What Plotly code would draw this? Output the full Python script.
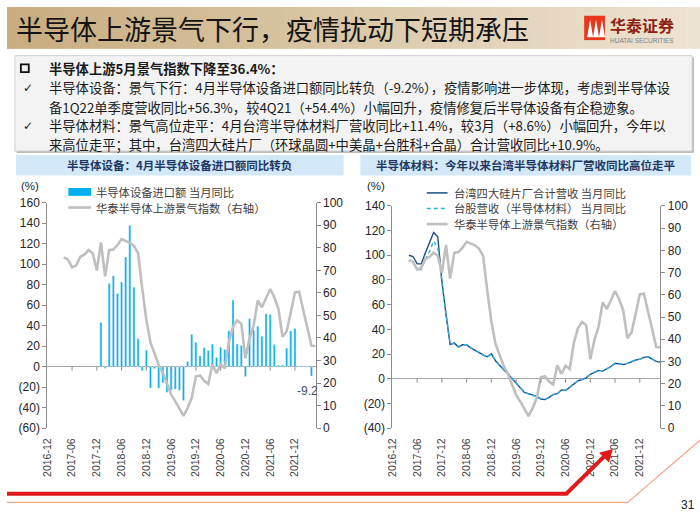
import plotly.graph_objects as go

W, H = 700, 525

months = [f"{2016 + (11 + k)//12}-{(11 + k) % 12 + 1:02d}" for k in range(66)]
tick_months = months[::6][:11]

# 半导体设备进口额 当月同比 (%), 2016-12 .. 2022-05
equip_yoy = [None]*13 + [
    43, -1.5, 81, 88.6, 71.3, 82.7, 107, 138, 77.6, 27.2, -4, 16.2,
    -20.8, -2, -21, -16, -25, -23, -22, -23, -33, 5, 31.7, 23.8,
    10.5, 18.4, 15.8, 22, 8.9, 19, 16.8, 35, 65, 22, 20.6, -9.5,
    46.8, 35.7, 39.3, 29.7, 51.6, 51, 21.5, 1.5, 1.5, 17.9, 34.8, 37.3,
    0.6, 0.6, 0.6, -9.2, None]

# 华泰半导体上游景气指数 (右轴)
boom_index = [None]*4 + [
    75.7, 74.8, 71.3, 72.2, 76, 77, 79, 77.6, 69.9,
    82.4, 67.3, 78.9, 79.2, 81.2, 83.8, 83, 82.2, 80.8, 77.5, 62, 48,
    38, 32.5, 28, 24.4, 20, 15, 12, 8.5, 5.4, 9, 13.4, 22.9,
    23.4, 21, 19.6, 28.3, 24.4, 28.1, 26.6, 38.3, 44.9, 47.8, 46.3, 31,
    39.7, 45.6, 56.6, 53.6, 58, 61.7, 58, 52.9, 40.5, 43, 51.4, 60.2,
    60.5, 52.9, 44.9, 36.5, 36.4]

# 台湾四大硅片厂合计营收 当月同比 (%)
wafer_yoy = [None]*4 + [
    100, 99, 93, 93, 102, 111, 118.5, 115, 79,
    52, 27.7, 29, 25.7, 27.5, 27.5, 25, 23, 21.2, 19.4, 17.8, 20.2,
    14.6, 10.7, 7.3, 4.1, 0.2, -3.8, -7.7, -11.1, -12.1, -13.5, -14.3, -16.4,
    -16.9, -15.1, -12.9, -12.1, -9, -9.5, -6.9, -3.8, -1.7, -0.6, 0.7, 3.6,
    5.4, 6.8, 6.2, 8, 9.9, 12.5, 12, 11.5, 12.5, 14.1, 15.1, 15.9,
    17.3, 17.8, 15.9, 14.1, 13.6]

# 台股营收（半导体材料）当月同比 (%)
material_yoy = [None]*4 + [
    95.5, 95, 88.5, 88.5, 97, 103, 111.5, 106, 78,
    51, 28.2, 28.6, 26.2, 27.2, 27.8, 25.3, 23.2, 21, 19.6, 17.5, 20,
    14.8, 10.9, 7.6, 4.3, 0.5, -3.5, -7.4, -10.8, -12.3, -13.2, -14.6, -16.1,
    -16.6, -15.4, -12.6, -12.3, -9.3, -9.2, -7.1, -3.6, -1.9, -0.4, 0.9, 3.4,
    5.6, 6.6, 6.5, 7.8, 10.1, 12.3, 12.2, 11.3, 12.7, 13.9, 15.3, 15.7,
    17.1, 17.6, 16.2, 13.8, 13.4]

left_ticks = list(range(-60, 161, 20))
right_ticks = list(range(0, 101, 10))
left2_ticks = list(range(-40, 141, 20))


def fmt(v):
    return f"({-v})" if v < 0 else str(v)


CJK = "Noto Sans CJK SC"
NUM = "Liberation Sans"
AXC = "#8c8c8c"
BAR = "#00b0f0"
GRAY = "#bfbfbf"

fig = go.Figure()

# ---- left chart ----
fig.add_trace(go.Bar(x=months, y=equip_yoy, marker_color=BAR, width=0.5,
                     name="半导体设备进口额 当月同比", xaxis="x", yaxis="y",
                     showlegend=False))
fig.add_trace(go.Scatter(x=months, y=boom_index, mode="lines",
                         line=dict(color=GRAY, width=2.6),
                         name="华泰半导体上游景气指数（右轴）", xaxis="x", yaxis="y2",
                         showlegend=False))
# ---- right chart ----
fig.add_trace(go.Scatter(x=months, y=boom_index, mode="lines",
                         line=dict(color=GRAY, width=2.6),
                         name="华泰半导体上游景气指数（右轴）", xaxis="x2", yaxis="y4",
                         showlegend=False))
fig.add_trace(go.Scatter(x=months, y=wafer_yoy, mode="lines",
                         line=dict(color="#1f4b86", width=1.4),
                         name="台湾四大硅片厂合计营收 当月同比", xaxis="x2", yaxis="y3",
                         showlegend=False))
fig.add_trace(go.Scatter(x=months, y=material_yoy, mode="lines",
                         line=dict(color="#2fb0e8", width=1.4, dash="4px,3px"),
                         name="台股营收（半导体材料）当月同比", xaxis="x2", yaxis="y3",
                         showlegend=False))

ybot = 1 - 432.7 / H
xcommon = dict(type="category", categoryorder="array", categoryarray=months,
               range=[0, 65], tickmode="array", tickvals=tick_months,
               ticktext=tick_months, tickangle=-90, showgrid=False, showline=False,
               zeroline=False, ticks="outside", ticklen=5, tickcolor="rgba(0,0,0,0)",
               tickfont=dict(family=NUM, size=10.5, color="#404040"))
ycommon = dict(showgrid=False, showline=True, linecolor=AXC, linewidth=1,
               ticks="outside", ticklen=4, tickcolor=AXC,
               tickfont=dict(family=NUM, size=12, color="#262626"))

fig.update_layout(
    width=W, height=H, margin=dict(l=0, r=0, t=0, b=0),
    paper_bgcolor="white", plot_bgcolor="rgba(0,0,0,0)",
    bargap=0.5,
    xaxis=dict(domain=[40.7 / W, 311.7 / W], anchor="y", **xcommon),
    yaxis=dict(domain=[ybot, 1 - 201 / H], anchor="x", range=[-60, 160],
               tickmode="array", tickvals=left_ticks,
               ticktext=[fmt(v) for v in left_ticks],
               zeroline=True, zerolinecolor="#a6a6a6", zerolinewidth=1, **ycommon),
    yaxis2=dict(overlaying="y", side="right", anchor="x", range=[0, 100],
                tickmode="array", tickvals=right_ticks, zeroline=False, **ycommon),
    xaxis2=dict(domain=[389.3 / W, 660 / W], anchor="y3", **xcommon),
    yaxis3=dict(domain=[ybot, 1 - 204.3 / H], anchor="x2", range=[-40, 140],
                tickmode="array", tickvals=left2_ticks,
                ticktext=[fmt(v) for v in left2_ticks],
                zeroline=True, zerolinecolor="#a6a6a6", zerolinewidth=1, **ycommon),
    yaxis4=dict(overlaying="y3", side="right", anchor="x2", range=[0, 100],
                tickmode="array", tickvals=right_ticks, zeroline=False, **ycommon),
)

shapes = []
ann = []

# tick marks on the zero lines
for t in tick_months[1:]:
    shapes.append(dict(type="line", xref="x", yref="y", x0=t, x1=t, y0=0, y1=-4,
                       ysizemode="pixel", yanchor=0, line=dict(color=AXC, width=1)))
    shapes.append(dict(type="line", xref="x2", yref="y3", x0=t, x1=t, y0=0, y1=-4,
                       ysizemode="pixel", yanchor=0, line=dict(color=AXC, width=1)))

# banner gradient
n = 50
c0 = (201, 173, 128)
c1 = (238, 228, 210)
for i in range(n):
    f = i / (n - 1)
    col = tuple(int(c0[j] + (c1[j] - c0[j]) * f) for j in range(3))
    shapes.append(dict(type="rect", xref="paper", yref="paper",
                       x0=i / n, x1=(i + 1) / n + 0.002, y0=1 - 43 / H, y1=1,
                       line=dict(width=0), fillcolor=f"rgb{col}", layer="below"))

ann.append(dict(text="半导体上游景气下行，疫情扰动下短期承压", x=7 / W, y=1 - 22 / H,
                xref="paper", yref="paper", xanchor="left", yanchor="middle",
                showarrow=False, font=dict(family=CJK, size=27, color="#141414")))

# logo
shapes.append(dict(type="rect", xref="paper", yref="paper", x0=583 / W, x1=604 / W,
                   y0=1 - 34 / H, y1=1 - 9 / H, line=dict(width=0),
                   fillcolor="#e8381b"))
for k in range(3):
    xx = 586 + k * 6
    shapes.append(dict(type="path", xref="paper", yref="paper",
                       path=f"M {xx / W},{1 - 31 / H} L {(xx + 3) / W},{1 - 13 / H} L {(xx + 6) / W},{1 - 31 / H} Z",
                       line=dict(width=0), fillcolor="white"))
ann.append(dict(text="<b>华泰证券</b>", x=607 / W, y=1 - 18 / H, xref="paper", yref="paper",
                xanchor="left", yanchor="middle", showarrow=False,
                font=dict(family=CJK, size=16, color="#8e1f16")))
ann.append(dict(text="HUATAI SECURITIES", x=607 / W, y=1 - 34 / H, xref="paper", yref="paper",
                xanchor="left", yanchor="middle", showarrow=False,
                font=dict(family=NUM, size=6.5, color="#7f7f7f")))

# text box
shapes.append(dict(type="rect", xref="paper", yref="paper", x0=10 / W, x1=694 / W,
                   y0=1 - 150 / H, y1=1 - 52 / H, line=dict(width=0),
                   fillcolor="#bdbdbd", layer="below"))
shapes.append(dict(type="rect", xref="paper", yref="paper", x0=8 / W, x1=692 / W,
                   y0=1 - 148 / H, y1=1 - 50 / H, line=dict(color="#d0d0d0", width=1),
                   fillcolor="#f3f3f3", layer="below"))
shapes.append(dict(type="rect", xref="paper", yref="paper", x0=14 / W, x1=22 / W,
                   y0=1 - 67 / H, y1=1 - 59 / H, line=dict(color="#111111", width=1.8)))
lines = [
    (63, "<b>半导体上游5月景气指数下降至36.4%：</b>", 40, None),
    (83, "半导体设备：景气下行：4月半导体设备进口额同比转负（-9.2%），疫情影响进一步体现，考虑到半导体设", 40, "✓"),
    (103, "备1Q22单季度营收同比+56.3%，较4Q21（+54.4%）小幅回升，疫情修复后半导体设备有企稳迹象。", 40, None),
    (122, "半导体材料：景气高位走平：4月台湾半导体材料厂营收同比+11.4%，较3月（+8.6%）小幅回升，今年以", 40, "✓"),
    (141, "来高位走平；其中，台湾四大硅片厂（环球晶圆+中美晶+台胜科+合晶）合计营收同比+10.9%。", 40, None),
]
for y, t, x, mark in lines:
    ann.append(dict(text=t, x=x / W, y=1 - y / H, xref="paper", yref="paper",
                    xanchor="left", yanchor="middle", showarrow=False,
                    font=dict(family=CJK, size=13.3, color="#1a1a1a")))
    if mark:
        ann.append(dict(text=mark, x=14 / W, y=1 - y / H, xref="paper", yref="paper",
                        xanchor="left", yanchor="middle", showarrow=False,
                        font=dict(family="DejaVu Sans", size=12, color="#1a1a1a")))

# chart title boxes
for x0, x1, t in [(9, 340, "半导体设备：4月半导体设备进口额同比转负"),
                  (357, 691, "半导体材料：今年以来台湾半导体材料厂营收同比高位走平")]:
    shapes.append(dict(type="rect", xref="paper", yref="paper", x0=x0 / W, x1=x1 / W,
                       y0=1 - 173 / H, y1=1 - 152 / H, line=dict(width=0),
                       fillcolor="#d3e8f8", layer="below"))
    ann.append(dict(text=f"<b>{t}</b>", x=(x0 + x1) / 2 / W, y=1 - 162.5 / H,
                    xref="paper", yref="paper", xanchor="center", yanchor="middle",
                    showarrow=False, font=dict(family=CJK, size=11.5, color="#1f3864")))

# (%) labels
for x in (12, 362):
    ann.append(dict(text="(%)", x=x / W, y=1 - 184 / H, xref="paper", yref="paper",
                    xanchor="left", yanchor="middle", showarrow=False,
                    font=dict(family=NUM, size=11.5, color="#262626")))

# legends (left chart)
LEGF = dict(family=CJK, size=11.3, color="#404040")
shapes.append(dict(type="rect", xref="paper", yref="paper", x0=62 / W, x1=85 / W,
                   y0=1 - 194 / H, y1=1 - 186 / H, line=dict(width=0), fillcolor=BAR))
shapes.append(dict(type="line", xref="paper", yref="paper", x0=62 / W, x1=85 / W,
                   y0=1 - 206 / H, y1=1 - 206 / H, line=dict(color=GRAY, width=2.6)))
ann.append(dict(text="半导体设备进口额 当月同比", x=88 / W, y=1 - 190 / H, xref="paper",
                yref="paper", xanchor="left", yanchor="middle", showarrow=False, font=LEGF))
ann.append(dict(text="华泰半导体上游景气指数（右轴）", x=88 / W, y=1 - 206 / H, xref="paper",
                yref="paper", xanchor="left", yanchor="middle", showarrow=False, font=LEGF))
# legends (right chart)
shapes.append(dict(type="line", xref="paper", yref="paper", x0=424 / W, x1=445 / W,
                   y0=1 - 191 / H, y1=1 - 191 / H, line=dict(color="#1f4b86", width=1.5)))
shapes.append(dict(type="line", xref="paper", yref="paper", x0=424 / W, x1=445 / W,
                   y0=1 - 207 / H, y1=1 - 207 / H,
                   line=dict(color="#2fb0e8", width=1.5, dash="4px,3px")))
shapes.append(dict(type="line", xref="paper", yref="paper", x0=424 / W, x1=445 / W,
                   y0=1 - 223 / H, y1=1 - 223 / H, line=dict(color=GRAY, width=2.6)))
for y, t in [(191, "台湾四大硅片厂合计营收 当月同比"),
             (207, "台股营收（半导体材料） 当月同比"),
             (223, "华泰半导体上游景气指数（右轴）")]:
    ann.append(dict(text=t, x=449 / W, y=1 - y / H, xref="paper", yref="paper",
                    xanchor="left", yanchor="middle", showarrow=False, font=LEGF))

# -9.2 label
ann.append(dict(text="-9.2", x="2022-04", y=-9.2, xref="x", yref="y", xshift=-4, yshift=-6,
                xanchor="center", yanchor="top", showarrow=False,
                font=dict(family=NUM, size=12, color="#44546a")))

# bottom decorations
shapes.append(dict(type="path", xref="paper", yref="paper",
                   path=f"M 0,{1 - 500 / H} L {565 / W},{1 - 500 / H} L {603 / W},{1 - 462 / H}",
                   line=dict(color="#e01a1a", width=4)))
shapes.append(dict(type="path", xref="paper", yref="paper",
                   path=f"M {598 / W},{1 - 458 / H} L {612 / W},{1 - 454 / H} L {608 / W},{1 - 468 / H} Z",
                   line=dict(width=0), fillcolor="#e01a1a"))
shapes.append(dict(type="path", xref="paper", yref="paper",
                   path=f"M 0,{1 - 509 / H} L {627 / W},{1 - 509 / H} L {700 / W},{1 - 445 / H}",
                   line=dict(color="#f4a582", width=1.2)))
ann.append(dict(text="31", x=688 / W, y=1 - 512 / H, xref="paper", yref="paper",
                xanchor="center", yanchor="middle", showarrow=False,
                font=dict(family=NUM, size=12, color="#262626")))

fig.update_layout(shapes=shapes, annotations=ann)
fig.write_html("out.html", config={"displayModeBar": False},
               post_script="document.body.style.margin='0';document.body.style.overflow='hidden';")
